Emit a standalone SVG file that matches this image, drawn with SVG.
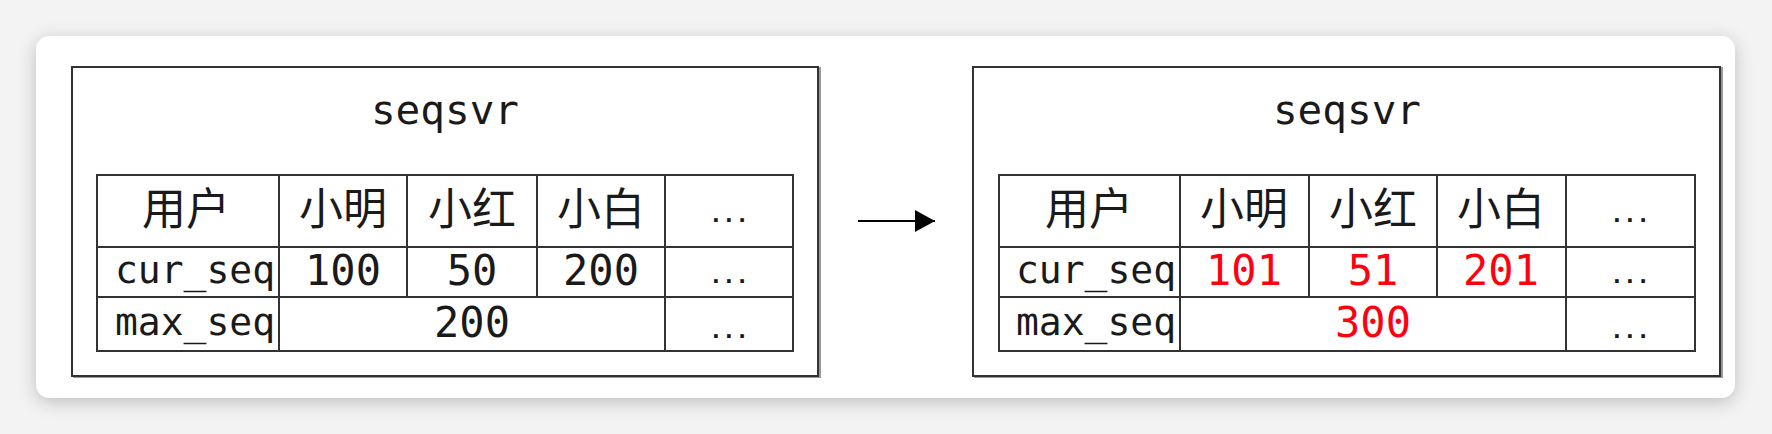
<svg xmlns="http://www.w3.org/2000/svg" width="1772" height="434" viewBox="0 0 1772 434">
<defs>
<filter id="cardShadow" x="-5%" y="-20%" width="110%" height="150%">
<feDropShadow dx="0" dy="4" stdDeviation="9" flood-color="#000" flood-opacity="0.22"/>
</filter>
<marker id="arrowHead" viewBox="0 0 20 22" refX="20" refY="11" markerWidth="20" markerHeight="22" markerUnits="userSpaceOnUse" orient="auto">
<path d="M0,0 L20,11 L0,22 Z" fill="#000"/>
</marker>
<style>
.box{fill:#fff;stroke:#333;stroke-width:2}
.boxShadow{fill:none;stroke:#999;stroke-width:2}
.grid{fill:none;stroke:#333;stroke-width:2}
.title{font-family:"DejaVu Sans Mono","Liberation Mono",monospace;font-size:41px;fill:#1a1a1a;text-anchor:middle}
.lbl{font-family:"DejaVu Sans Mono","Liberation Mono",monospace;font-size:38px;fill:#1a1a1a;text-anchor:middle}
.num{font-family:"DejaVu Sans Mono","Liberation Mono",monospace;font-size:42px;fill:#1a1a1a;text-anchor:middle}
.red{fill:#ff0010}
.cjk{font-family:"Noto Sans CJK SC","Noto Sans",sans-serif;font-size:44px;fill:#1a1a1a;text-anchor:middle}
.dots{font-family:"DejaVu Sans Mono","Liberation Mono",monospace;font-size:22px;font-weight:bold;fill:#1a1a1a;text-anchor:middle}
.conn{stroke:#000;stroke-width:2;fill:none}
</style>
</defs>
<rect x="0" y="0" width="1772" height="434" fill="#f3f3f3"/>
<rect x="36" y="36" width="1699" height="362" rx="14" ry="14" fill="#fff" filter="url(#cardShadow)"/>

<g id="left-server">
<rect class="boxShadow" x="74" y="68" width="746" height="309"/>
<rect class="box" x="72" y="67" width="746" height="309"/>
<text class="title" x="445" y="124">seqsvr</text>
<g id="left-table">
<rect class="grid" x="97" y="175" width="696" height="176"/>
<line class="grid" x1="97" y1="247" x2="793" y2="247"/>
<line class="grid" x1="97" y1="297" x2="793" y2="297"/>
<line class="grid" x1="279" y1="175" x2="279" y2="351"/>
<line class="grid" x1="407" y1="175" x2="407" y2="297"/>
<line class="grid" x1="537" y1="175" x2="537" y2="297"/>
<line class="grid" x1="665" y1="175" x2="665" y2="351"/>
<text class="cjk" x="186" y="225">用户</text>
<text class="cjk" x="343" y="225">小明</text>
<text class="cjk" x="472" y="225">小红</text>
<text class="cjk" x="601" y="225">小白</text>
<text class="dots" x="729" y="222">...</text>
<text class="lbl" x="195" y="283">cur_seq</text>
<text class="num" x="343" y="285">100</text>
<text class="num" x="472" y="285">50</text>
<text class="num" x="601" y="285">200</text>
<text class="dots" x="729" y="283">...</text>
<text class="lbl" x="195" y="335">max_seq</text>
<text class="num" x="472" y="337">200</text>
<text class="dots" x="729" y="338">...</text>
</g>
</g>

<g id="connectors">
<line class="conn" x1="858" y1="221" x2="935" y2="221" marker-end="url(#arrowHead)"/>
</g>

<g id="right-server">
<rect class="boxShadow" x="975" y="68" width="747" height="309"/>
<rect class="box" x="973" y="67" width="747" height="309"/>
<text class="title" x="1347" y="124">seqsvr</text>
<g id="right-table">
<rect class="grid" x="999" y="175" width="696" height="176"/>
<line class="grid" x1="999" y1="247" x2="1695" y2="247"/>
<line class="grid" x1="999" y1="297" x2="1695" y2="297"/>
<line class="grid" x1="1180" y1="175" x2="1180" y2="351"/>
<line class="grid" x1="1309" y1="175" x2="1309" y2="297"/>
<line class="grid" x1="1437" y1="175" x2="1437" y2="297"/>
<line class="grid" x1="1566" y1="175" x2="1566" y2="351"/>
<text class="cjk" x="1089" y="225">用户</text>
<text class="cjk" x="1244" y="225">小明</text>
<text class="cjk" x="1373" y="225">小红</text>
<text class="cjk" x="1501" y="225">小白</text>
<text class="dots" x="1630" y="222">...</text>
<text class="lbl" x="1096" y="283">cur_seq</text>
<text class="num red" x="1244" y="285">101</text>
<text class="num red" x="1373" y="285">51</text>
<text class="num red" x="1501" y="285">201</text>
<text class="dots" x="1630" y="283">...</text>
<text class="lbl" x="1096" y="335">max_seq</text>
<text class="num red" x="1373" y="337">300</text>
<text class="dots" x="1630" y="338">...</text>
</g>
</g>
</svg>
